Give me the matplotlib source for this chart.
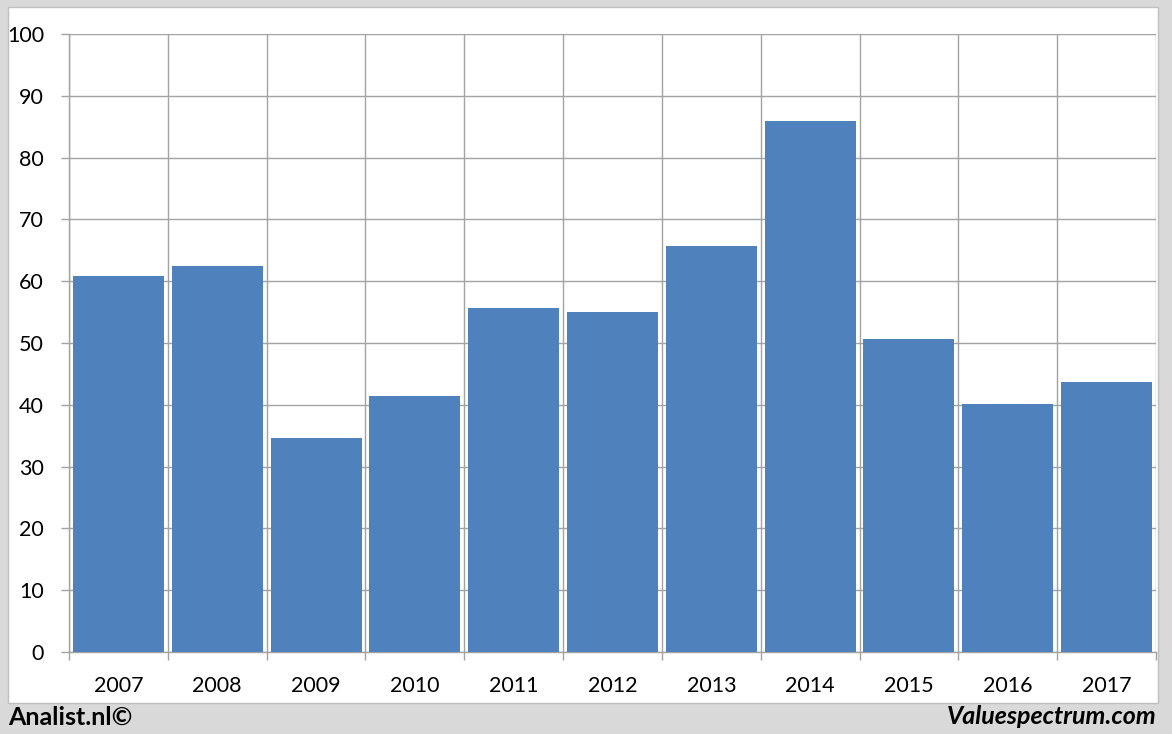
import matplotlib.pyplot as plt
import numpy as np
from matplotlib.patches import Rectangle

years = ["2007", "2008", "2009", "2010", "2011", "2012", "2013", "2014", "2015", "2016", "2017"]
values = [60.8, 62.5, 34.6, 41.4, 55.7, 55.0, 65.7, 85.9, 50.6, 40.1, 43.7]
y_ticks = [0, 10, 20, 30, 40, 50, 60, 70, 80, 90, 100]

plt.rcParams['font.family'] = ['Lato', 'DejaVu Sans']

W, H = 1172, 734
fig = plt.figure(figsize=(W / 100, H / 100), dpi=100, facecolor='#d9d9d9')

# white panel behind the chart
fig.patches.append(Rectangle((8 / W, 1 - 703 / H), (1158 - 8) / W, (703 - 7) / H,
                             transform=fig.transFigure, facecolor='white',
                             edgecolor='#bfbfbf', linewidth=1, zorder=-10))

ax = fig.add_axes([69 / W, (H - 652) / H, (1156 - 69) / W, (652 - 34) / H])
ax.set_facecolor('none')

x = np.arange(len(years))
ax.bar(x, values, width=0.92, color='#4f81bd', zorder=3)

ax.set_xlim(-0.5, len(years) - 0.5)
ax.set_ylim(0, 100)
ax.set_yticks(y_ticks)
ax.set_xticks(x)
ax.set_xticklabels(years)
ax.set_xticks(np.arange(-0.5, len(years)), minor=True)

grid_c = '#a3a3a3'
ax.grid(True, which='major', axis='y', color=grid_c, linewidth=1, zorder=1)
ax.grid(True, which='minor', axis='x', color=grid_c, linewidth=1, zorder=1)

ax.tick_params(axis='x', which='major', length=0, pad=17, labelsize=15.5)
ax.tick_params(axis='x', which='minor', length=6, color=grid_c, width=1)
ax.tick_params(axis='y', length=6, color=grid_c, width=1, pad=12, labelsize=15.5)

for s in ['top', 'right']:
    ax.spines[s].set_visible(False)
for s in ['left', 'bottom']:
    ax.spines[s].set_color(grid_c)
    ax.spines[s].set_linewidth(1)

fig.text(8 / W, 1 - 717 / H, "Analist.nl©", fontsize=18, fontweight='bold',
         ha='left', va='center')
fig.text(1157 / W, 1 - 717 / H, "Valuespectrum.com", fontsize=18, fontweight='bold',
         style='italic', ha='right', va='center')

fig.savefig("out.png", dpi=100, facecolor=fig.get_facecolor())
